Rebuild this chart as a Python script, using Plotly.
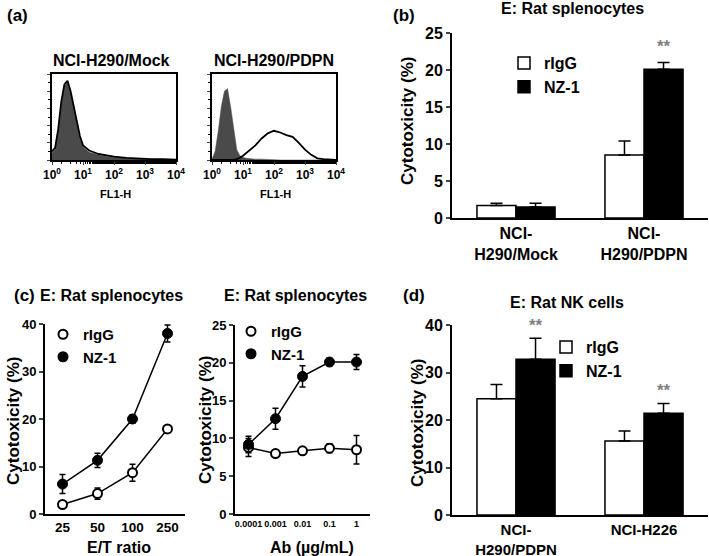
import plotly.graph_objects as go

W, H = 709, 556
FONT = "Liberation Sans, Arial, Helvetica, sans-serif"
GRAY = "#4a4a4a"
STAR = "#808080"

# ---------------- data ----------------
# (a) flow cytometry histograms (log10 FL1-H position, relative count)
mock_log = [0.0, 0.1, 0.2, 0.3, 0.4, 0.5, 0.6, 0.7, 0.8, 0.9, 1.0, 1.2, 1.5, 1.8, 2.0, 2.4, 2.8, 3.2, 3.6, 4.0]
mock_ctrl = [0.08, 0.12, 0.33, 0.65, 0.86, 0.90, 0.78, 0.60, 0.42, 0.25, 0.15, 0.09, 0.06, 0.04, 0.03, 0.02, 0.01, 0.005, 0.005, 0.0]
mock_nz1 = [0.10, 0.14, 0.36, 0.68, 0.88, 0.92, 0.80, 0.63, 0.45, 0.28, 0.17, 0.11, 0.07, 0.05, 0.04, 0.025, 0.015, 0.01, 0.01, 0.005]
pdpn_log = [0.0, 0.1, 0.2, 0.3, 0.4, 0.5, 0.6, 0.7, 0.8, 0.9, 1.0, 1.1, 1.2, 1.4, 1.6, 1.8, 2.0, 2.2, 2.4, 2.6, 2.8, 3.0, 3.2, 3.4, 3.6, 4.0]
pdpn_ctrl = [0.01, 0.10, 0.33, 0.62, 0.80, 0.83, 0.62, 0.35, 0.12, 0.05, 0.03, 0.02, 0.015, 0.01, 0.01, 0.005, 0.005, 0, 0, 0, 0, 0, 0, 0, 0, 0]
pdpn_nz1 = [0.0, 0.0, 0.0, 0.0, 0.0, 0.0, 0.0, 0.005, 0.01, 0.025, 0.05, 0.08, 0.11, 0.17, 0.25, 0.31, 0.34, 0.32, 0.29, 0.27, 0.20, 0.12, 0.06, 0.02, 0.01, 0.0]
hist_tickvals = [1, 10, 100, 1000, 10000]
hist_ticktext = ["10<sup>0</sup>", "10<sup>1</sup>", "10<sup>2</sup>", "10<sup>3</sup>", "10<sup>4</sup>"]

# (b) rat splenocytes
b_cats = ["NCI-<br>H290/Mock", "NCI-<br>H290/PDPN"]
b_rigg = [1.7, 8.5]
b_rigg_err = [0.3, 1.9]
b_nz1 = [1.5, 20.1]
b_nz1_err = [0.5, 0.9]
b_sig = [False, True]

# (c) left: E/T ratio
et_cats = ["25", "50", "100", "250"]
et_rigg = [2.0, 4.3, 8.7, 17.9]
et_rigg_err = [0.3, 1.2, 1.8, 0.4]
et_nz1 = [6.3, 11.3, 20.0, 38.0]
et_nz1_err = [2.0, 1.5, 0.9, 1.8]

# (c) right: antibody concentration
ab_cats = ["0.0001", "0.001", "0.01", "0.1", "1"]
ab_rigg = [8.8, 8.0, 8.35, 8.7, 8.5]
ab_rigg_err = [1.2, 0.5, 0.4, 0.6, 1.9]
ab_nz1 = [9.2, 12.6, 18.2, 20.1, 20.1]
ab_nz1_err = [1.1, 1.4, 1.4, 0.5, 1.0]

# (d) rat NK cells
d_cats = ["NCI-<br>H290/PDPN", "NCI-H226"]
d_rigg = [24.5, 15.6]
d_rigg_err = [3.0, 2.1]
d_nz1 = [32.8, 21.4]
d_nz1_err = [4.4, 2.1]
d_sig = [True, True]


def px(x):
    return x / W


def py(y):
    return 1 - y / H


fig = go.Figure()

# ---------------- (a) ----------------
for i, (lg, ctrl, nz) in enumerate([(mock_log, mock_ctrl, mock_nz1), (pdpn_log, pdpn_ctrl, pdpn_nz1)]):
    xa = "x" if i == 0 else "x2"
    ya = "y" if i == 0 else "y2"
    xs = [10 ** v for v in lg]
    fig.add_trace(go.Scatter(x=xs, y=ctrl, xaxis=xa, yaxis=ya, mode="lines",
                             line=dict(width=0.5, color=GRAY), fill="tozeroy",
                             fillcolor=GRAY, showlegend=False, hoverinfo="skip"))
    fig.add_trace(go.Scatter(x=xs, y=nz, xaxis=xa, yaxis=ya, mode="lines",
                             line=dict(width=1.8, color="black"), showlegend=False,
                             hoverinfo="skip"))

# ---------------- bar panels ----------------
def add_bars(cats, r, re, n, ne, xa, ya, leg, show):
    fig.add_trace(go.Bar(x=cats, y=r, name="rIgG", xaxis=xa, yaxis=ya,
                         marker=dict(color="white", line=dict(color="black", width=1.5)),
                         error_y=dict(type="data", array=re, arrayminus=[0] * len(re),
                                      symmetric=False, color="black", thickness=1.5, width=6),
                         legend=leg, showlegend=show))
    fig.add_trace(go.Bar(x=cats, y=n, name="NZ-1", xaxis=xa, yaxis=ya,
                         marker=dict(color="black", line=dict(color="black", width=1.5)),
                         error_y=dict(type="data", array=ne, arrayminus=[0] * len(ne),
                                      symmetric=False, color="black", thickness=1.5, width=6),
                         legend=leg, showlegend=show))


add_bars(b_cats, b_rigg, b_rigg_err, b_nz1, b_nz1_err, "x3", "y3", "legend", True)
add_bars(d_cats, d_rigg, d_rigg_err, d_nz1, d_nz1_err, "x6", "y6", "legend4", True)

# ---------------- line panels ----------------
def add_lines(cats, r, re, n, ne, xa, ya, leg):
    fig.add_trace(go.Scatter(x=cats, y=r, xaxis=xa, yaxis=ya, mode="lines+markers",
                             line=dict(color="black", width=1.5),
                             marker=dict(symbol="circle", size=9, color="white",
                                         line=dict(color="black", width=2)),
                             error_y=dict(type="data", array=re, color="black", thickness=1.5, width=3),
                             showlegend=False))
    fig.add_trace(go.Scatter(x=cats, y=n, xaxis=xa, yaxis=ya, mode="lines+markers",
                             line=dict(color="black", width=1.5),
                             marker=dict(symbol="circle", size=10, color="black",
                                         line=dict(color="black", width=1)),
                             error_y=dict(type="data", array=ne, color="black", thickness=1.5, width=3),
                             showlegend=False))
    # legend-only entries (marker without line)
    fig.add_trace(go.Scatter(x=[None], y=[None], xaxis=xa, yaxis=ya, mode="markers", name="rIgG",
                             marker=dict(symbol="circle", size=9, color="white",
                                         line=dict(color="black", width=2)), legend=leg))
    fig.add_trace(go.Scatter(x=[None], y=[None], xaxis=xa, yaxis=ya, mode="markers", name="NZ-1",
                             marker=dict(symbol="circle", size=11, color="black"), legend=leg))


add_lines(et_cats, et_rigg, et_rigg_err, et_nz1, et_nz1_err, "x4", "y4", "legend2")
add_lines(ab_cats, ab_rigg, ab_rigg_err, ab_nz1, ab_nz1_err, "x5", "y5", "legend3")

# ---------------- axes ----------------
def tf(size):
    return dict(family=FONT, size=size, color="black", weight="bold")


hist_x = dict(type="log", range=[0, 4], tickvals=hist_tickvals, ticktext=hist_ticktext,
              ticks="outside", ticklen=3, tickwidth=1.2, tickfont=tf(12), showline=True,
              mirror=True, linewidth=2, linecolor="black", showgrid=False, zeroline=False,
              automargin=False,
              minor=dict(ticks="outside", ticklen=2, tickwidth=1, tickcolor="black", showgrid=False))
hist_y = dict(range=[0, 1.0], showticklabels=False, ticks="outside", ticklen=3, dtick=0.2,
              showline=True, mirror=True, linewidth=2, linecolor="black", showgrid=False,
              zeroline=False, automargin=False,
              minor=dict(ticks="outside", ticklen=2, dtick=0.1, tickcolor="black"))

fig.update_layout(
    xaxis=dict(domain=[px(52), px(176)], anchor="y", **hist_x),
    yaxis=dict(domain=[py(160), py(74)], anchor="x", **hist_y),
    xaxis2=dict(domain=[px(212), px(336)], anchor="y2", **hist_x),
    yaxis2=dict(domain=[py(160), py(74)], anchor="x2", **hist_y),
)


def cat_x(dom, ya, size, n):
    return dict(domain=dom, anchor=ya, type="category", range=[-0.5, n - 0.5], ticks="",
                showline=True, linewidth=2, linecolor="black", tickfont=tf(size),
                tickangle=0, showgrid=False, zeroline=False, automargin=False)


def val_y(dom, xa, rng, dt, size):
    return dict(domain=dom, anchor=xa, range=rng, dtick=dt, ticks="outside", ticklen=4,
                tickwidth=1.5, showline=True, linewidth=2, linecolor="black",
                tickfont=tf(size), showgrid=False, zeroline=False, automargin=False)


fig.update_layout(
    xaxis3=cat_x([px(452), px(708)], "y3", 16, 2),
    yaxis3=val_y([py(218), py(33)], "x3", [0, 25], 5, 16),
    xaxis4=cat_x([px(45), px(185)], "y4", 13.5, 4),
    yaxis4=val_y([py(514), py(324)], "x4", [0, 40], 10, 13),
    xaxis5=cat_x([px(235), px(370)], "y5", 9, 5),
    yaxis5=val_y([py(514), py(325)], "x5", [0, 25], 5, 13),
    xaxis6=cat_x([px(452), px(708)], "y6", 15, 2),
    yaxis6=val_y([py(515), py(325)], "x6", [0, 40], 10, 16),
)

# ---------------- legends ----------------
def leg(x, y, size):
    return dict(x=px(x), y=py(y), xanchor="left", yanchor="top", bgcolor="rgba(0,0,0,0)",
                font=tf(size), itemwidth=30, tracegroupgap=0, traceorder="normal")


fig.update_layout(
    legend=leg(504, 46, 16),
    legend2=leg(43, 318, 15),
    legend3=leg(231, 315, 15),
    legend4=leg(546, 330, 16),
)

# ---------------- annotations ----------------
ann = []


def text(x, y, s, size, angle=0, color="black", xanchor="center"):
    ann.append(dict(x=px(x), y=py(y), xref="paper", yref="paper", text=s, showarrow=False,
                    font=tf(size) | dict(color=color), textangle=angle,
                    xanchor=xanchor, yanchor="middle"))


# panel labels
text(17, 15, "(a)", 17)
text(404, 15, "(b)", 17)
text(24, 295, "(c)", 17)
text(414, 295, "(d)", 17)
# titles
text(111, 60, "NCI-H290/Mock", 16)
text(274, 60, "NCI-H290/PDPN", 16)
text(572, 8, "E: Rat splenocytes", 16)
text(111, 295, "E: Rat splenocytes", 16)
text(295, 295, "E: Rat splenocytes", 16)
text(567, 302, "E: Rat NK cells", 16)
# axis titles
text(115, 194, "FL1-H", 11)
text(275, 194, "FL1-H", 11)
text(408, 121, "Cytotoxicity (%)", 17, angle=-90)
text(13, 421, "Cytotoxicity (%)", 17, angle=-90)
text(205, 420, "Cytotoxicity (%)", 17, angle=-90)
text(417, 423, "Cytotoxicity (%)", 17, angle=-90)
text(119, 547, "E/T ratio", 16)
text(312, 547, "Ab (µg/mL)", 16)

# significance marks
for cats, vals, errs, sig, xa, ya, shift in [(b_cats, b_nz1, b_nz1_err, b_sig, "x3", "y3", 5),
                                             (d_cats, d_nz1, d_nz1_err, d_sig, "x6", "y6", 1)]:
    for c, v, e, s in zip(cats, vals, errs, sig):
        if s:
            ann.append(dict(x=c, y=v + e, xref=xa, yref=ya, text="**", showarrow=False,
                            xshift=20, yshift=shift, yanchor="bottom",
                            font=dict(family=FONT, size=17, color=STAR)))

fig.update_layout(
    template="none",
    annotations=ann,
    width=W, height=H, margin=dict(l=0, r=0, t=0, b=0, autoexpand=False),
    paper_bgcolor="white", plot_bgcolor="white",
    font=dict(family=FONT, size=14, color="black", weight="bold"),
    barmode="group", bargap=0.39, bargroupgap=0,
)

fig.write_html("out.html", config={"displayModeBar": False},
               post_script="document.body.style.margin='0';document.body.style.overflow='hidden';")
